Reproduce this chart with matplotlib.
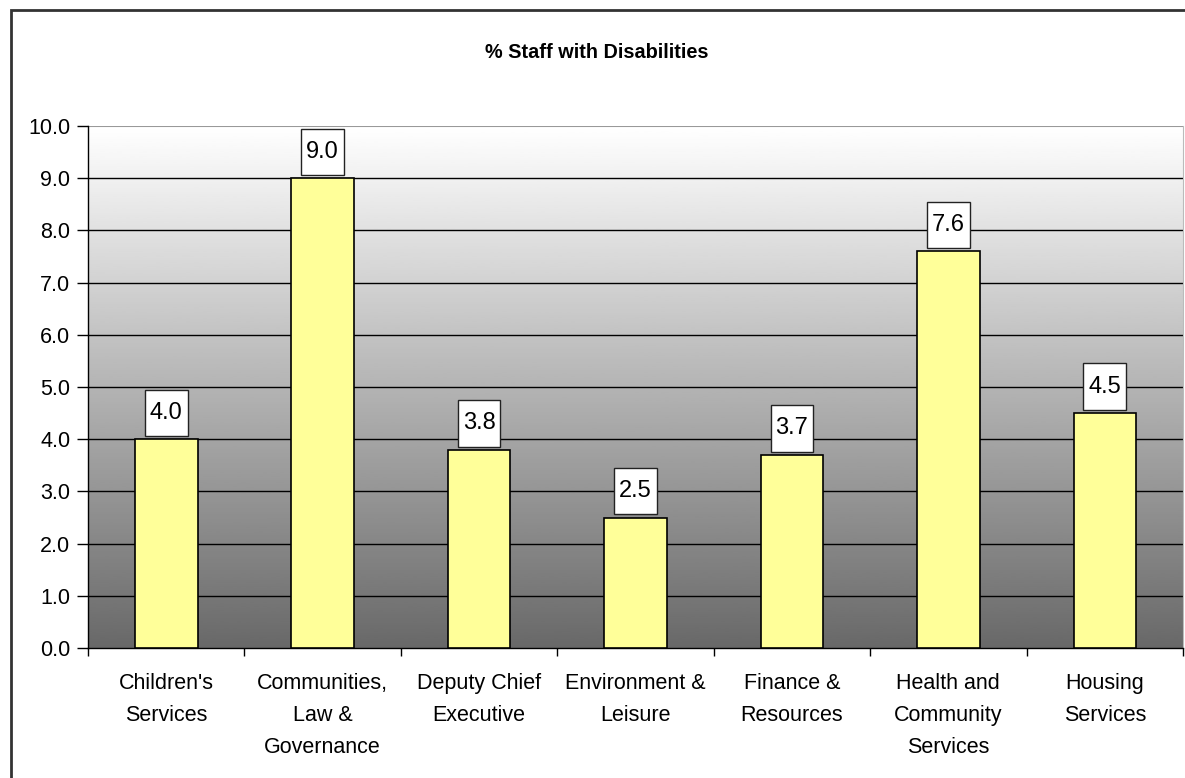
import numpy as np
import matplotlib.pyplot as plt
from matplotlib.patches import Rectangle
from matplotlib.path import Path
from matplotlib.transforms import Affine2D

plt.rcParams['font.family'] = ['Liberation Sans', 'DejaVu Sans']

# Department names and % of staff with disabilities
departments = ["Children's\nServices", "Communities,\nLaw &\nGovernance", "Deputy Chief\nExecutive",
               "Environment &\nLeisure", "Finance &\nResources", "Health and\nCommunity\nServices",
               "Housing\nServices"]
pct_disabled = [4.0, 9.0, 3.8, 2.5, 3.7, 7.6, 4.5]
y_ticks = np.arange(0, 10.5, 1.0)


def tall_box(x0, y0, width, height, mutation_size):
    # rectangle with small side padding and larger top/bottom padding
    px = 0.21 * mutation_size
    py = 0.52 * mutation_size
    w = width + 2 * px
    h = height + 2 * py
    return Path.unit_rectangle().transformed(Affine2D().scale(w, h).translate(x0 - px, y0 - py))


fig = plt.figure(figsize=(11.85, 7.78), dpi=100)
ax = fig.add_axes([88 / 1185, 1 - 648 / 778, (1183 - 88) / 1185, (648 - 126) / 778])

# grey gradient background, white at top fading to dark grey
grad = np.linspace(0.41, 1.0, 256).reshape(-1, 1)
ax.imshow(grad, cmap='gray', vmin=0, vmax=1, aspect='auto', origin='lower',
          extent=[-0.5, len(departments) - 0.5, 0, 10], zorder=0)

x = np.arange(len(departments))
ax.bar(x, pct_disabled, width=0.4, color='#ffff99', edgecolor='black', linewidth=1.2, zorder=3)

for xi, v in zip(x, pct_disabled):
    ax.annotate(f'{v:.1f}', xy=(xi, v), xytext=(0, 19), textcoords='offset points',
                ha='center', va='center', fontsize=17, zorder=4,
                bbox=dict(boxstyle=tall_box, fc='white', ec='#222222', lw=1))

ax.set_xlim(-0.5, len(departments) - 0.5)
ax.set_ylim(0, 10)
ax.set_yticks(y_ticks)
ax.set_yticklabels([f'{t:.1f}' for t in y_ticks], fontsize=15.5)
for t in y_ticks[1:-1]:
    ax.axhline(t, color='black', lw=1, zorder=1)
ax.axhline(10, color='#999999', lw=1.5, zorder=1)

# ticks sit at the category boundaries, labels centred on the bars
ax.set_xticks(np.arange(len(departments) + 1) - 0.5)
ax.set_xticklabels([])
ax.set_xticks(x, minor=True)
ax.set_xticklabels(departments, minor=True, fontsize=15.5, linespacing=1.7, va='top')
ax.tick_params(axis='x', which='minor', length=0, pad=18)
ax.tick_params(axis='x', which='major', direction='out', length=6, width=1)
ax.tick_params(axis='y', direction='out', length=8, width=1, pad=4.7)

ax.spines['top'].set_visible(False)
ax.spines['right'].set_color('#bbbbbb')
ax.spines['left'].set_linewidth(1)
ax.spines['bottom'].set_linewidth(1)

fig.text(597 / 1185, 1 - 53 / 778, '% Staff with Disabilities', ha='center', va='center',
         fontsize=14.3, fontweight='bold')

# chart frame, runs off the right and bottom edges
fig.patches.append(Rectangle((11 / 1185, -0.1), 1.2, 1 - 10 / 778 + 0.1,
                             transform=fig.transFigure, fill=False, ec='#333333', lw=2))

fig.savefig('out.png', dpi=100)
